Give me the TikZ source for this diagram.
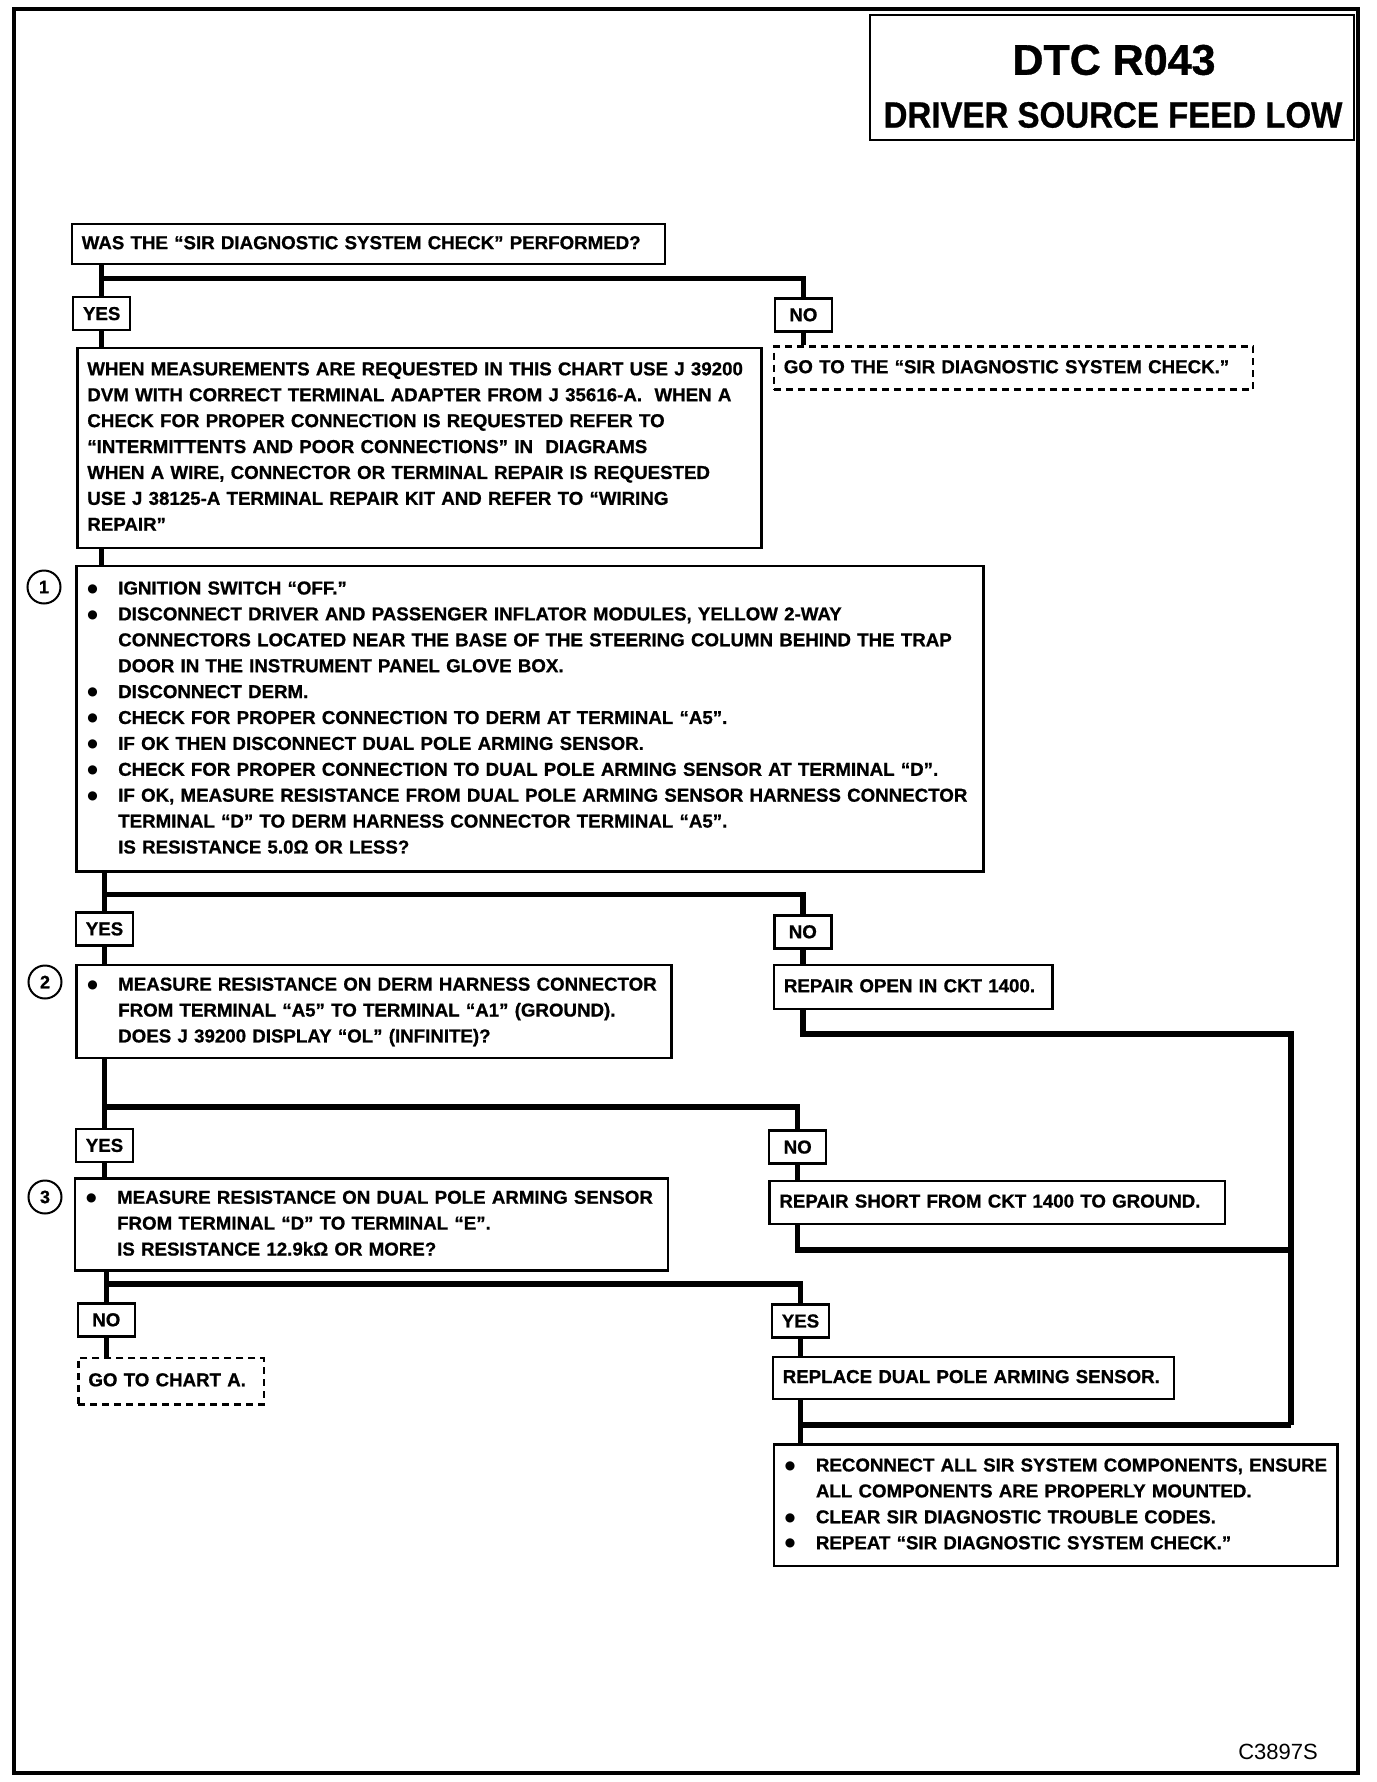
\documentclass[tikz,border=0pt]{standalone}
\usepackage{fontspec}
\setmainfont{Liberation Sans}[BoldFeatures={FakeBold=0.8}]
\newfontfamily\symfnt{DejaVu Sans}
\usepackage{graphicx}
\newcommand\bodyfnt{\fontsize{18.7}{25.9}\selectfont\bfseries}
\newcommand\bul{\makebox[32pt][l]{\hspace{1pt}\raisebox{2.2pt}{\symfnt\fontsize{12}{12}\selectfont ●}}}
\newcommand\ind{\hspace*{32pt}}
\newcommand\lns[1]{\begin{tabular}{@{}l@{}}#1\end{tabular}}
\tikzset{
  box/.style={draw, line width=2.5pt, anchor=north west, align=left, inner xsep=10pt, inner ysep=0pt, font=\bodyfnt},
  dbox/.style={box, dash pattern=on 7pt off 5pt, line width=2.2pt},
  lbl/.style={draw, line width=2.5pt, minimum width=57pt, minimum height=33pt, inner sep=0pt, font=\bodyfnt},
  conn/.style={line width=5.5pt},
  circ/.style={draw, circle, line width=2pt, minimum size=33pt, inner sep=0pt, font=\fontsize{18}{18}\selectfont\bfseries}
}
\begin{document}
\begin{tikzpicture}[x=1pt,y=-1pt]
\useasboundingbox (0,0) rectangle (1376,1782);
\fill[white] (0,0) rectangle (1376,1782);
% outer frame and title
\draw[line width=4.5pt] (14,9) rectangle (1358,1773);
\node[draw, line width=2.2pt, anchor=north west, minimum width=484pt, minimum height=125pt, inner sep=0pt] (title) at (869,14) {};
\node[font=\fontsize{43}{43}\selectfont\bfseries, inner sep=0pt] (t1) at (1114,60) {DTC R043};
\node[font=\fontsize{36.5}{36.5}\selectfont\bfseries, inner sep=0pt] (t2) at (1113,115) {\scalebox{0.905}[1]{DRIVER SOURCE FEED LOW}};

% boxes
\node[box, text width=573pt, minimum height=40pt] (boxA) at (70.5,222.7) {\lns{WAS THE “SIR DIAGNOSTIC SYSTEM CHECK” PERFORMED?}};
\node[lbl] (yes1) at (101.7,313.6) {YES};
\node[lbl] (no1) at (803.4,314.8) {NO};
\node[dbox, text width=459.5pt, minimum height=43pt] (go1) at (772.7,345.4) {\lns{GO TO THE “SIR DIAGNOSTIC SYSTEM CHECK.”}};
\node[box, text width=664pt, minimum height=200pt] (boxB) at (76.1,346.6) {\lns{WHEN MEASUREMENTS ARE REQUESTED IN THIS CHART USE J 39200\\
DVM WITH CORRECT TERMINAL ADAPTER FROM J 35616-A.\ \ WHEN A\\
CHECK FOR PROPER CONNECTION IS REQUESTED REFER TO\\
“INTERMITTENTS AND POOR CONNECTIONS” IN\ \ DIAGRAMS\\
WHEN A WIRE, CONNECTOR OR TERMINAL REPAIR IS REQUESTED\\
USE J 38125-A TERMINAL REPAIR KIT AND REFER TO “WIRING\\
REPAIR”}};

\node[box, text width=887pt, minimum height=305.7pt] (box1) at (75,564.7) {\lns{\bul IGNITION SWITCH “OFF.”\\
\bul DISCONNECT DRIVER AND PASSENGER INFLATOR MODULES, YELLOW 2-WAY\\
\ind CONNECTORS LOCATED NEAR THE BASE OF THE STEERING COLUMN BEHIND THE TRAP\\
\ind DOOR IN THE INSTRUMENT PANEL GLOVE BOX.\\
\bul DISCONNECT DERM.\\
\bul CHECK FOR PROPER CONNECTION TO DERM AT TERMINAL “A5”.\\
\bul IF OK THEN DISCONNECT DUAL POLE ARMING SENSOR.\\
\bul CHECK FOR PROPER CONNECTION TO DUAL POLE ARMING SENSOR AT TERMINAL “D”.\\
\bul IF OK, MEASURE RESISTANCE FROM DUAL POLE ARMING SENSOR HARNESS CONNECTOR\\
\ind TERMINAL “D” TO DERM HARNESS CONNECTOR TERMINAL “A5”.\\
\ind IS RESISTANCE 5.0Ω OR LESS?}};
\node[circ] (c1) at (44,587) {1};

\node[lbl] (yes2) at (104.5,928.9) {YES};
\node[lbl] (no2) at (802.8,931.8) {NO};
\node[box, text width=575.4pt, minimum height=93pt] (box2) at (75,963.6) {\lns{\bul MEASURE RESISTANCE ON DERM HARNESS CONNECTOR\\
\ind FROM TERMINAL “A5” TO TERMINAL “A1” (GROUND).\\
\ind DOES J 39200 DISPLAY “OL” (INFINITE)?}};
\node[circ] (c2) at (45,982) {2};
\node[box, text width=258.3pt, minimum height=44.3pt] (open) at (772.7,963.6) {\lns{REPAIR OPEN IN CKT 1400.}};

\node[lbl] (yes3) at (104.5,1145.4) {YES};
\node[lbl] (no3) at (797.7,1147.1) {NO};
\node[box, text width=573pt, minimum height=92pt] (box3) at (73.9,1177.2) {\lns{\bul MEASURE RESISTANCE ON DUAL POLE ARMING SENSOR\\
\ind FROM TERMINAL “D” TO TERMINAL “E”.\\
\ind IS RESISTANCE 12.9kΩ OR MORE?}};
\node[circ] (c3) at (45,1197) {3};
\node[box, text width=435.7pt, minimum height=43.2pt] (short) at (768.1,1179.5) {\lns{REPAIR SHORT FROM CKT 1400 TO GROUND.}};

\node[lbl] (no4) at (106.3,1319.8) {NO};
\node[lbl] (yes4) at (800.5,1321) {YES};
\node[dbox, text width=165.2pt, minimum height=46.6pt] (goA) at (77.3,1356.7) {\lns{GO TO CHART A.}};
\node[box, text width=381.2pt, minimum height=42pt] (repl) at (771.5,1355.6) {\lns{REPLACE DUAL POLE ARMING SENSOR.}};
\node[box, text width=543.6pt, minimum height=121.6pt] (final) at (772.7,1443.1) {\lns{\bul RECONNECT ALL SIR SYSTEM COMPONENTS, ENSURE\\
\ind ALL COMPONENTS ARE PROPERLY MOUNTED.\\
\bul CLEAR SIR DIAGNOSTIC TROUBLE CODES.\\
\bul REPEAT “SIR DIAGNOSTIC SYSTEM CHECK.”}};

\node[anchor=east, font=\fontsize{22}{22}\selectfont, inner sep=0pt] (code) at (1318,1752) {C3897S};

% junction coordinates
\coordinate (j1) at (0,278.4);
\coordinate (j2) at (0,894.3);
\coordinate (j3) at (0,1106.8);
\coordinate (j4) at (0,1284);
\coordinate (r1) at (1290.8,1034);
\coordinate (r2) at (1290.8,1250);
\coordinate (jm) at (1290.8,1425);

% connectors
\draw[conn] (yes1.north |- boxA.south) -- (yes1.north);
\draw[conn] (yes1.north |- j1) -| (no1.north);
\draw[conn] (no1.south) -- (no1.south |- go1.north);
\draw[conn] (yes1.south) -- (yes1.south |- boxB.north);
\draw[conn] (yes1.south |- boxB.south) -- (yes1.south |- box1.north);

\draw[conn] (yes2.north |- box1.south) -- (yes2.north);
\draw[conn] (yes2.north |- j2) -| (no2.north);
\draw[conn] (yes2.south) -- (yes2.south |- box2.north);
\draw[conn] (no2.south) -- (no2.south |- open.north);
\draw[conn] (no2.south |- open.south) |- (r1) -- (jm);

\draw[conn] (yes3.north |- box2.south) -- (yes3.north);
\draw[conn] (yes3.north |- j3) -| (no3.north);
\draw[conn] (yes3.south) -- (yes3.south |- box3.north);
\draw[conn] (no3.south) -- (no3.south |- short.north);
\draw[conn] (no3.south |- short.south) |- (r2);

\draw[conn] (no4.north |- box3.south) -- (no4.north);
\draw[conn] (no4.north |- j4) -| (yes4.north);
\draw[conn] (no4.south) -- (no4.south |- goA.north);
\draw[conn] (yes4.south) -- (yes4.south |- repl.north);
\draw[conn] (yes4.south |- repl.south) -- (yes4.south |- final.north);
\draw[conn] (yes4.south |- jm) -- (jm);
\end{tikzpicture}
\end{document}
